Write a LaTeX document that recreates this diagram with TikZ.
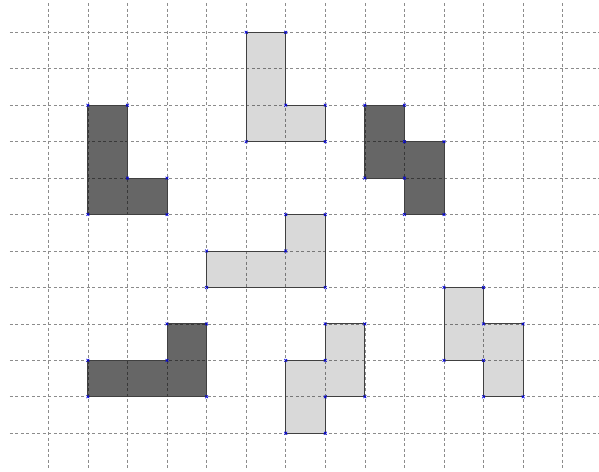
\documentclass[tikz,border=0pt]{standalone}
\begin{document}
\begin{tikzpicture}[x=39.57bp,y=-36.45bp,
  gridline/.style={draw=black!45,dashed,dash pattern=on 3bp off 2.5bp,line width=0.7bp},
  darkpiece/.style={fill=black,fill opacity=0.6,draw=black!75,line width=0.9bp},
  lightpiece/.style={fill=black,fill opacity=0.15,draw=black!75,draw opacity=1,line width=0.9bp},
  vmark/.style={draw=blue!85!black,line width=0.7bp}]
\useasboundingbox (-1.2206,-0.8861) rectangle (13.917,12.036);
% grid
\foreach \i in {0,...,13} \draw[gridline] (\i,-0.8) -- (\i,11.95);
\foreach \j in {0,...,11} \draw[gridline] (-0.97,\j) -- (13.92,\j);
% pieces
\draw[darkpiece] (1,2)--(2,2)--(2,4)--(3,4)--(3,5)--(1,5)--cycle;
\draw[lightpiece] (5,0)--(6,0)--(6,2)--(7,2)--(7,3)--(5,3)--cycle;
\draw[darkpiece] (8,2)--(9,2)--(9,3)--(10,3)--(10,5)--(9,5)--(9,4)--(8,4)--cycle;
\draw[lightpiece] (4,6)--(6,6)--(6,5)--(7,5)--(7,7)--(4,7)--cycle;
\draw[darkpiece] (1,9)--(3,9)--(3,8)--(4,8)--(4,10)--(1,10)--cycle;
\draw[lightpiece] (7,8)--(8,8)--(8,10)--(7,10)--(7,11)--(6,11)--(6,9)--(7,9)--cycle;
\draw[lightpiece] (10,7)--(11,7)--(11,8)--(12,8)--(12,10)--(11,10)--(11,9)--(10,9)--cycle;
% vertex marks
\foreach \p in {(1,2),(2,2),(2,4),(3,4),(3,5),(1,5),
  (5,0),(6,0),(6,2),(7,2),(7,3),(5,3),
  (8,2),(9,2),(9,3),(10,3),(10,5),(9,5),(9,4),(8,4),
  (4,6),(6,6),(6,5),(7,5),(7,7),(4,7),
  (1,9),(3,9),(3,8),(4,8),(4,10),(1,10),
  (7,8),(8,8),(8,10),(7,10),(7,11),(6,11),(6,9),(7,9),
  (10,7),(11,7),(11,8),(12,8),(12,10),(11,10),(11,9),(10,9)}
  \draw[vmark] \p ++(-1.4bp,-1.4bp) -- ++(2.8bp,2.8bp) \p ++(-1.4bp,1.4bp) -- ++(2.8bp,-2.8bp);
\end{tikzpicture}
\end{document}
